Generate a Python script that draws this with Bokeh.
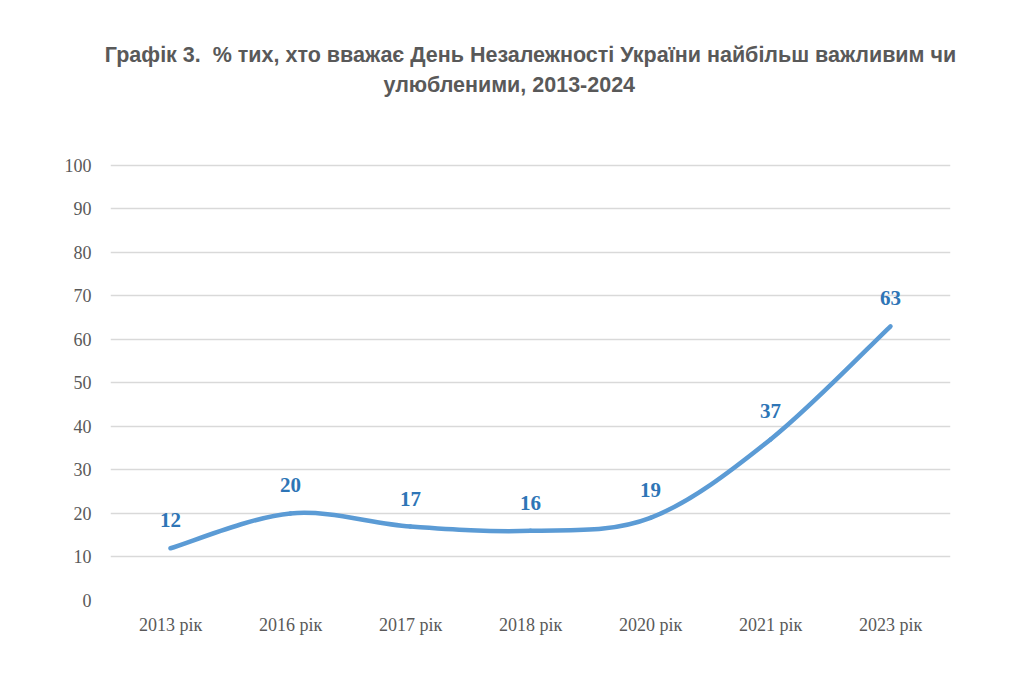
from bokeh.plotting import figure
from bokeh.models import Range1d, FixedTicker, Title, ColumnDataSource
from bokeh.core.properties import value
from bokeh.embed import file_html
from bokeh.resources import INLINE

# ---- data ----
years = ["2013 рік", "2016 рік", "2017 рік", "2018 рік", "2020 рік", "2021 рік", "2023 рік"]
shares = [12, 20, 17, 16, 19, 37, 63]
y_ticks = [0, 10, 20, 30, 40, 50, 60, 70, 80, 90, 100]
title_line1 = "Графік 3.\u00a0 % тих, хто вважає День Незалежності України найбільш важливим чи"
title_line2 = "улюбленими, 2013-2024"

xs = list(range(len(years)))
n = len(xs)

# smoothed line (cardinal spline as Bezier segments, as in spreadsheet "smoothed line")
seg = dict(x0=[], y0=[], x1=[], y1=[], cx0=[], cy0=[], cx1=[], cy1=[])
for i in range(n - 1):
    a = max(i - 1, 0)
    b = min(i + 2, n - 1)
    seg["x0"].append(xs[i]); seg["y0"].append(shares[i])
    seg["x1"].append(xs[i + 1]); seg["y1"].append(shares[i + 1])
    seg["cx0"].append(xs[i] + (xs[i + 1] - xs[a]) / 6)
    seg["cy0"].append(shares[i] + (shares[i + 1] - shares[a]) / 6)
    seg["cx1"].append(xs[i + 1] - (xs[b] - xs[i]) / 6)
    seg["cy1"].append(shares[i + 1] - (shares[b] - shares[i]) / 6)

p = figure(width=1008, height=670, output_backend="svg", toolbar_location=None,
           x_range=Range1d(-0.5, n - 0.5), y_range=Range1d(0, 100.4),
           min_border_left=110, min_border_right=58, min_border_top=163, min_border_bottom=70)
p.outline_line_color = None
p.background_fill_color = "white"
p.border_fill_color = "white"

p.bezier(x0="x0", y0="y0", x1="x1", y1="y1", cx0="cx0", cy0="cy0", cx1="cx1", cy1="cy1",
         source=ColumnDataSource(seg), line_color="#5B9BD5", line_width=4.5, line_cap="round")

p.text(x=xs, y=shares, text=[str(v) for v in shares], text_font=value("Liberation Serif"),
       text_font_style="bold", text_font_size="21px", text_color="#2E75B6",
       text_align="center", text_baseline="middle", y_offset=-28)

# axes
p.xaxis.ticker = FixedTicker(ticks=xs)
p.xaxis.major_label_overrides = {i: years[i] for i in xs}
p.yaxis.ticker = FixedTicker(ticks=y_ticks)
for ax in (p.xaxis[0], p.yaxis[0]):
    ax.axis_line_color = None
    ax.major_tick_line_color = None
    ax.minor_tick_line_color = None
    ax.major_label_text_font = "Liberation Serif"
    ax.major_label_text_font_size = "18px"
    ax.major_label_text_color = "#595959"
p.xaxis.major_label_standoff = 8
p.yaxis.major_label_standoff = 13

p.xgrid.grid_line_color = None
p.ygrid.ticker = FixedTicker(ticks=y_ticks)
p.ygrid.grid_line_color = "#D9D9D9"
p.ygrid.grid_line_width = 1.5

# title (two lines) stacked above the frame; blank titles act as spacers
p.title.text = ""
tstyle = dict(text_font="Liberation Sans", text_font_size="21.5px",
              text_font_style="bold", text_color="#595959")
spacer_low = Title(text=" ", standoff=39.4, **tstyle)
t2 = Title(text=title_line2, align="left", offset=273, standoff=4, **tstyle)
t1 = Title(text=title_line1, align="center", standoff=4, **tstyle)
spacer_top = Title(text=" ", standoff=11.6, **tstyle)
for t in (spacer_low, t2, t1, spacer_top):
    p.add_layout(t, "above")

open("out.html", "w").write(file_html(p, INLINE))
